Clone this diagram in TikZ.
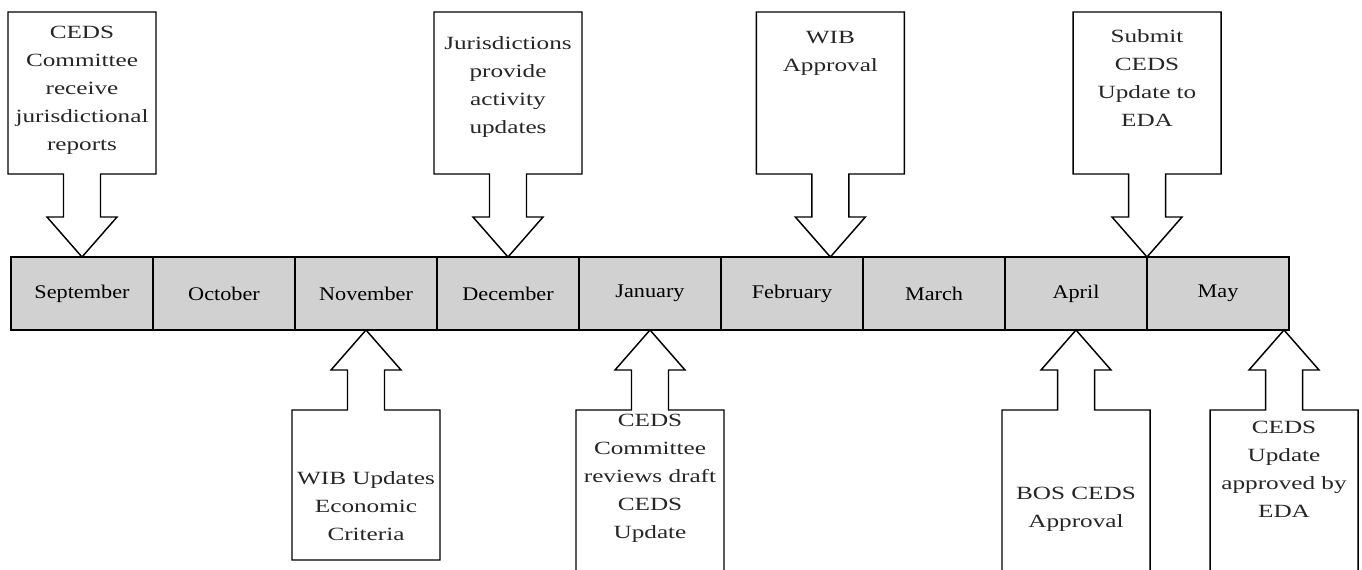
\documentclass[tikz,border=0pt]{standalone}
\usepackage{fontspec}
\newfontfamily\boxfont{Liberation Serif}[FakeStretch=1.35]
\newfontfamily\monthfont{Liberation Serif}[FakeStretch=1.15]
\usetikzlibrary{positioning,calc}

% block arrow: tip, direction (1 down, -1 up), stem length, box height
\newcommand{\eventarrow}[4]{%
  \draw[callline] (#1) -- ++(35,{#2*40}) -- ++(-16.5,0) -- ++(0,{#2*#3})
    -- ++(55.5,0) -- ++(0,{#2*#4}) -- ++(-148,0) -- ++(0,{-#2*#4})
    -- ++(55.5,0) -- ++(0,{-#2*#3}) -- ++(-16.5,0) -- cycle;}

\begin{document}
\begin{tikzpicture}[x=0.75pt,y=-0.75pt,
month/.style={draw=black, line width=0.9pt, fill=black!18, minimum width=106.5pt,
  minimum height=54.75pt, inner sep=0pt, outer sep=0pt,
  font=\monthfont\fontsize{14.5pt}{17pt}\selectfont},
note/.style={align=center, inner sep=0pt, anchor=north, text=black!85,
  font=\boxfont\fontsize{14pt}{21pt}\selectfont},
callline/.style={draw=black, line width=1.1pt, line join=miter, fill=white}
]
\useasboundingbox (0,0) rectangle (1362,569);
\clip (0,0) rectangle (1362,569);

%Months
\node[month] (sep) at (82,293.5)      {September};
\node[month] (oct) [right=0pt of sep] {October};
\node[month] (nov) [right=0pt of oct] {November};
\node[month] (dec) [right=0pt of nov] {December};
\node[month] (jan) [right=0pt of dec] {January};
\node[month] (feb) [right=0pt of jan] {February};
\node[month] (mar) [right=0pt of feb] {March};
\node[month] (apr) [right=0pt of mar] {April};
\node[month] (may) [right=0pt of apr] {May};

%Tips
\coordinate (tfeb) at ($(feb.north west)!0.77!(feb.north east)$);
\coordinate (tmay) at ($(may.south east)+(-5,0)$);

%Arrows above
\eventarrow{sep.north}{-1}{43}{162}
\eventarrow{dec.north}{-1}{43}{162}
\eventarrow{tfeb}{-1}{43}{162}
\eventarrow{apr.north east}{-1}{43}{162}

%Arrows below
\eventarrow{nov.south}{1}{40}{150}
\eventarrow{jan.south}{1}{40}{190}
\eventarrow{apr.south}{1}{40}{190}
\eventarrow{tmay}{1}{40}{190}

%Texts
\node[note] (rep) at (sep.north |- 0,26) {CEDS\\Committee\\receive\\jurisdictional\\reports};
\node[note] (act) at (dec.north |- 0,36) {Jurisdictions\\provide\\activity\\updates};
\node[note] (wib) at (tfeb |- 0,31) {WIB\\Approval};
\node[note] (sub) at (apr.north east |- 0,29) {Submit\\CEDS\\Update to\\EDA};
\node[note] (eco) at (nov.south |- 0,471) {WIB Updates\\Economic\\Criteria};
\node[note] (rev) at (jan.south |- 0,414) {CEDS\\Committee\\reviews draft\\CEDS\\Update};
\node[note] (bos) at (apr.south |- 0,487) {BOS CEDS\\Approval};
\node[note] (eda) at (tmay |- 0,421) {CEDS\\Update\\approved by\\EDA};
\end{tikzpicture}
\end{document}
